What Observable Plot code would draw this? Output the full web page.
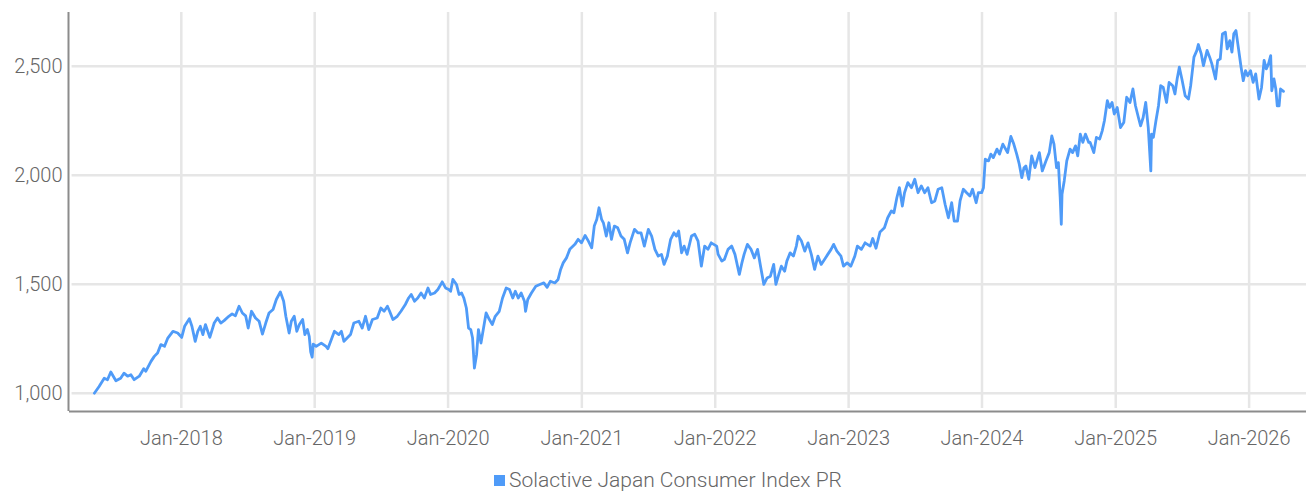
<!DOCTYPE html>
<html>
<head>
<meta charset="utf-8">
<script src="https://cdn.jsdelivr.net/npm/d3@7"></script>
<script src="https://cdn.jsdelivr.net/npm/@observablehq/plot@0.6"></script>
<style>
  body { margin: 0; background: #fff; font-family: Roboto, "Noto Sans", sans-serif; }
  #wrap { position: relative; width: 1306px; height: 496px; }
  #legend { position: absolute; left: 494px; top: 468px; display: flex; align-items: center;
            font-family: Roboto, sans-serif; font-size: 21px; font-weight: 300; color: #666; }
  #legend .sw { width: 11px; height: 11px; background: #4f9bf8; margin-right: 4px; }
</style>
</head>
<body>
<div id="wrap"><div id="chart"></div><div id="legend"><span class="sw"></span><span>Solactive Japan Consumer Index PR</span></div></div>
<script>
const seriesName = "Solactive Japan Consumer Index PR";
const dates = [
"2017-05-08","2017-05-21","2017-06-04","2017-06-13","2017-06-22","2017-07-06","2017-07-19","2017-07-28","2017-08-07","2017-08-16",
"2017-08-25","2017-09-08","2017-09-20","2017-09-26","2017-10-10","2017-10-19","2017-10-28","2017-11-06","2017-11-16","2017-11-25",
"2017-12-09","2017-12-22","2018-01-02","2018-01-10","2018-01-23","2018-01-30","2018-02-08","2018-02-15","2018-02-22","2018-03-01",
"2018-03-08","2018-03-20","2018-04-01","2018-04-10","2018-04-19","2018-04-28","2018-05-11","2018-05-20","2018-05-29","2018-06-08",
"2018-06-17","2018-06-26","2018-07-03","2018-07-12","2018-07-23","2018-08-02","2018-08-11","2018-08-20","2018-08-29","2018-09-09",
"2018-09-18","2018-09-29","2018-10-08","2018-10-14","2018-10-23","2018-10-29","2018-11-06","2018-11-13","2018-11-20","2018-11-29",
"2018-12-05","2018-12-12","2018-12-17","2018-12-21","2018-12-25","2018-12-28","2019-01-05","2019-01-19","2019-02-01","2019-02-06",
"2019-02-24","2019-03-08","2019-03-15","2019-03-22","2019-04-09","2019-04-18","2019-05-02","2019-05-11","2019-05-20","2019-05-29",
"2019-06-08","2019-06-21","2019-07-01","2019-07-10","2019-07-19","2019-07-25","2019-08-03","2019-08-15","2019-08-25","2019-09-06",
"2019-09-15","2019-09-22","2019-10-01","2019-10-10","2019-10-19","2019-10-28","2019-11-07","2019-11-14","2019-11-25","2019-12-04",
"2019-12-16","2019-12-25","2020-01-03","2020-01-08","2020-01-14","2020-01-24","2020-01-31","2020-02-07","2020-02-13","2020-02-20",
"2020-02-26","2020-03-03","2020-03-08","2020-03-13","2020-03-19","2020-03-24","2020-03-31","2020-04-07","2020-04-14","2020-04-23",
"2020-05-01","2020-05-09","2020-05-20","2020-05-29","2020-06-08","2020-06-17","2020-06-26","2020-07-03","2020-07-11","2020-07-19",
"2020-07-28","2020-07-31","2020-08-06","2020-08-16","2020-08-28","2020-09-08","2020-09-19","2020-09-28","2020-10-07","2020-10-19",
"2020-10-28","2020-11-04","2020-11-11","2020-11-20","2020-11-29","2020-12-13","2020-12-22","2020-12-31","2021-01-10","2021-01-19",
"2021-01-28","2021-02-04","2021-02-11","2021-02-17","2021-02-24","2021-03-01","2021-03-09","2021-03-16","2021-03-23","2021-03-31",
"2021-04-09","2021-04-18","2021-04-27","2021-05-06","2021-05-13","2021-05-25","2021-06-03","2021-06-12","2021-06-21","2021-07-02",
"2021-07-11","2021-07-20","2021-07-29","2021-08-07","2021-08-14","2021-08-23","2021-09-01","2021-09-10","2021-09-17","2021-09-23",
"2021-10-01","2021-10-08","2021-10-16","2021-10-28","2021-11-06","2021-11-15","2021-11-24","2021-12-03","2021-12-12","2021-12-21",
"2022-01-05","2022-01-09","2022-01-19","2022-01-26","2022-02-05","2022-02-15","2022-02-24","2022-03-08","2022-03-15","2022-03-21",
"2022-03-30","2022-04-09","2022-04-18","2022-04-27","2022-05-05","2022-05-14","2022-05-23","2022-06-01","2022-06-10","2022-06-16",
"2022-06-24","2022-07-01","2022-07-10","2022-07-16","2022-07-25","2022-08-03","2022-08-11","2022-08-16","2022-08-25","2022-09-03",
"2022-09-12","2022-09-21","2022-09-30","2022-10-09","2022-10-18","2022-10-27","2022-11-05","2022-11-14","2022-11-21","2022-11-30",
"2022-12-11","2022-12-18","2022-12-28","2023-01-07","2023-01-18","2023-01-25","2023-02-05","2023-02-15","2023-03-01","2023-03-08",
"2023-03-17","2023-03-28","2023-04-09","2023-04-18","2023-04-28","2023-05-05","2023-05-13","2023-05-20","2023-05-28","2023-06-03",
"2023-06-12","2023-06-22","2023-07-01","2023-07-10","2023-07-19","2023-07-28","2023-08-06","2023-08-16","2023-08-25","2023-09-03",
"2023-09-13","2023-09-22","2023-10-01","2023-10-10","2023-10-17","2023-10-26","2023-11-02","2023-11-11","2023-11-20","2023-11-29",
"2023-12-06","2023-12-16","2023-12-22","2023-12-31","2024-01-05","2024-01-10","2024-01-19","2024-01-25","2024-02-01","2024-02-11",
"2024-02-18","2024-02-27","2024-03-03","2024-03-11","2024-03-20","2024-03-28","2024-04-05","2024-04-12","2024-04-19","2024-04-25",
"2024-04-30","2024-05-08","2024-05-16","2024-05-25","2024-06-06","2024-06-14","2024-06-24","2024-07-03","2024-07-10","2024-07-16",
"2024-07-23","2024-07-28","2024-08-02","2024-08-05","2024-08-07","2024-08-13","2024-08-20","2024-08-29","2024-09-05","2024-09-13",
"2024-09-19","2024-09-26","2024-10-03","2024-10-10","2024-10-19","2024-10-23","2024-11-02","2024-11-09","2024-11-18","2024-11-25",
"2024-12-01","2024-12-09","2024-12-15","2024-12-22","2024-12-28","2025-01-05","2025-01-14","2025-01-23","2025-01-31","2025-02-09",
"2025-02-17","2025-02-24","2025-03-04","2025-03-10","2025-03-17","2025-03-24","2025-03-31","2025-04-07","2025-04-09","2025-04-14",
"2025-04-21","2025-04-28","2025-05-04","2025-05-11","2025-05-20","2025-05-27","2025-06-06","2025-06-12","2025-06-18","2025-06-24",
"2025-07-01","2025-07-10","2025-07-19","2025-07-25","2025-08-03","2025-08-11","2025-08-15","2025-08-23","2025-08-29","2025-09-08",
"2025-09-15","2025-09-21","2025-10-01","2025-10-07","2025-10-14","2025-10-20","2025-10-28","2025-11-02","2025-11-09","2025-11-15",
"2025-11-20","2025-11-26","2025-12-03","2025-12-10","2025-12-16","2025-12-22","2025-12-28","2026-01-05","2026-01-12","2026-01-19",
"2026-01-28","2026-02-04","2026-02-11","2026-02-17","2026-02-23","2026-03-01","2026-03-04","2026-03-10","2026-03-15","2026-03-19",
"2026-03-24","2026-03-28","2026-04-05"
];
const values = [
1000,1031,1069,1062,1097,1057,1069,1092,1078,1085,
1062,1078,1112,1101,1146,1169,1184,1223,1215,1253,
1284,1276,1256,1307,1342,1307,1238,1284,1307,1269,
1315,1256,1322,1345,1322,1333,1353,1364,1355,1399,
1368,1355,1299,1376,1345,1330,1271,1322,1368,1384,
1430,1465,1422,1353,1276,1330,1353,1284,1315,1338,
1269,1292,1261,1190,1165,1225,1215,1230,1215,1204,
1284,1269,1284,1238,1269,1322,1330,1299,1353,1292,
1338,1345,1391,1376,1399,1376,1338,1353,1376,1407,
1437,1453,1422,1437,1460,1437,1483,1453,1460,1476,
1511,1483,1476,1468,1522,1499,1453,1460,1437,1391,
1299,1292,1253,1115,1177,1292,1230,1299,1368,1338,
1315,1353,1376,1437,1483,1476,1437,1468,1437,1460,
1422,1376,1430,1460,1491,1499,1506,1486,1514,1506,
1522,1568,1598,1621,1660,1683,1706,1690,1724,1698,
1667,1767,1798,1851,1798,1782,1721,1782,1706,1767,
1759,1721,1706,1644,1690,1752,1736,1736,1675,1752,
1721,1660,1629,1637,1591,1629,1706,1736,1721,1744,
1644,1675,1637,1721,1729,1698,1583,1675,1660,1690,
1675,1637,1606,1614,1660,1675,1637,1545,1598,1637,
1683,1660,1621,1660,1583,1499,1529,1537,1591,1499,
1545,1583,1560,1606,1644,1629,1675,1721,1698,1652,
1690,1637,1568,1629,1591,1614,1637,1660,1683,1652,
1629,1583,1598,1583,1629,1675,1660,1690,1675,1710,
1665,1740,1759,1805,1836,1828,1897,1943,1859,1920,
1966,1943,1982,1920,1951,1920,1943,1874,1882,1936,
1943,1867,1805,1874,1790,1790,1882,1936,1920,1905,
1936,1874,1920,1920,1943,2074,2066,2097,2081,2120,
2097,2143,2128,2104,2178,2143,2097,2051,1989,2035,
2043,1982,2089,2035,2104,2020,2066,2104,2181,2143,
2035,2058,1897,1775,1913,1974,2066,2120,2104,2135,
2089,2189,2151,2189,2151,2151,2104,2174,2166,2204,
2250,2342,2311,2334,2281,2311,2219,2242,2358,2334,
2396,2319,2265,2227,2265,2334,2219,2020,2189,2174,
2250,2319,2411,2403,2334,2426,2411,2373,2442,2496,
2442,2365,2350,2411,2542,2573,2600,2557,2503,2573,
2542,2511,2442,2527,2534,2649,2657,2580,2618,2565,
2649,2664,2580,2496,2434,2480,2457,2480,2426,2465,
2350,2403,2527,2488,2511,2549,2388,2442,2396,2319,
2319,2396,2385
];
const yTicks = [1000, 1500, 2000, 2500];
const xTickYears = [2018, 2019, 2020, 2021, 2022, 2023, 2024, 2025, 2026];

const data = dates.map((d, i) => ({date: new Date(d + "T00:00:00Z"), value: values[i]}));
const xTicks = xTickYears.map(y => new Date(Date.UTC(y, 0, 1)));
const xDomain = [new Date("2017-03-01T00:00:00Z"), new Date("2026-06-07T00:00:00Z")];
const yDomain = [916, 2747];

const chart = Plot.plot({
  width: 1306,
  height: 460,
  marginLeft: 69,
  marginRight: 0,
  marginTop: 12,
  marginBottom: 49,
  style: {fontFamily: "Roboto, sans-serif", fontSize: "20px", fontWeight: 300, color: "#666", background: "#fff"},
  x: {type: "utc", domain: xDomain, label: null},
  y: {domain: yDomain, label: null},
  marks: [
    Plot.ruleX(xTicks, {stroke: "#e6e6e6", strokeWidth: 2.5, y1: yDomain[1], y2: 930}),
    Plot.ruleY(yTicks, {stroke: "#e6e6e6", strokeWidth: 2.5, x1: new Date("2017-03-08T00:00:00Z"), x2: xDomain[1]}),
    Plot.axisY({ticks: yTicks, tickFormat: d3.format(","), tickSize: 0, tickPadding: 7, fill: "#666", fontSize: 20, label: null}),
    Plot.axisX({ticks: xTicks, tickFormat: d3.utcFormat("%b-%Y"), tickSize: 0, tickPadding: 19, fill: "#666", fontSize: 20, label: null}),
    Plot.ruleY([yDomain[0]], {stroke: "#8c8c8c", strokeWidth: 2}),
    Plot.ruleX([xDomain[0]], {stroke: "#8c8c8c", strokeWidth: 2, dx: -1}),
    Plot.line(data, {x: "date", y: "value", stroke: "#4f9bf8", strokeWidth: 2.8, strokeLinejoin: "round"})
  ]
});
document.getElementById("chart").appendChild(chart);
</script>
</body>
</html>
